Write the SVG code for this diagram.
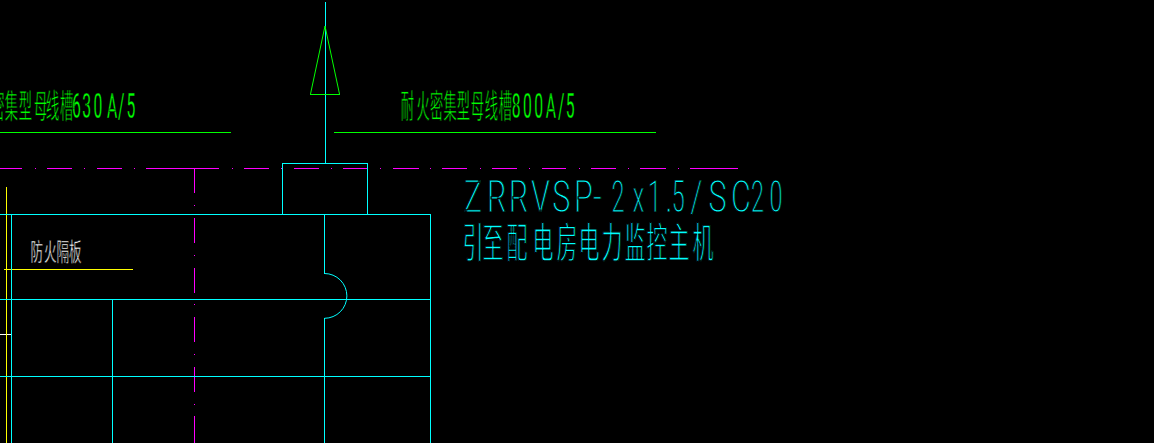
<svg xmlns="http://www.w3.org/2000/svg" width="1154" height="443" viewBox="0 0 1154 443">
<style>
line,path,polyline,rect.o{fill:none;stroke-width:1;shape-rendering:crispEdges}
.c{stroke:#0ff}.g{stroke:#0f0}.y{stroke:#ff0}.w{stroke:#fff}
.m{stroke:#f0f}
.cjk{font-family:"Noto Sans CJK SC","Noto Sans",sans-serif;font-weight:400;stroke:#000}
.lat{font-family:Roboto,"Liberation Sans",sans-serif;font-weight:400;stroke:#000}
.cab{font-weight:300;font-size:45px;stroke-width:.9}
.tg{fill:#0f0}.tc{fill:#0ff}.tw{fill:#fff}
</style>
<rect width="1154" height="443" fill="#000"/>
<g id="connectors">
<path class="m" d="M0 168.5H22M34.500 168.500h1M47 168.500H72M84 168.500h1M97 168.500H122M134 168.500h1M146 168.500H219M232 168.500h1M244 168.500H269M281 168.500h1M294 168.500H319M331 168.500h1M343 168.500H367M380 168.500h1M393 168.500H419M430 168.500h1M442 168.500H467M480 168.500h1M492 168.500H517M529 168.500h1M542 168.500H566M579 168.500h1M591 168.500H616M628 168.500h1M640 168.500H666M678 168.500h1M690 168.500H738"/>
<path class="m" d="M194.500 168.500V193M194.500 205v1M194.500 218V243M194.500 255v1M194.500 268V293M194.500 304v1M194.500 317V342M194.500 354v1M194.500 367V392M194.500 404v1M194.500 416V443"/>
<path class="g" d="M0 132.500H231M334 132.500H656"/>
<path class="y" d="M6.500 187V443M4 269.500H133"/>
<path class="w" d="M0 334.500H6M7 334.500H11"/>
<path class="c" d="M325.500 2V163.500M282.500 214V163.500H367.500V214M0 214.500H430.500V443M11.500 214V443M0 299.500H430.500M0 376.500H430.500M112.500 299.500V443M324.500 214.500V273.500"/>
<path class="c" style="shape-rendering:auto" d="M324.500 273.500A22.400 22.400 0 0 1 324.500 318.300"/>
<path class="c" d="M324.500 318V443"/>
</g>
<g id="arrow">
<path class="g" style="shape-rendering:auto" d="M325 26L310.500 94M325 26L339.500 94"/>
<path class="g" d="M310 94.500H340"/>
</g>
<g id="label-left">
<text class="cjk tg" font-size="33" stroke-width=".8" transform="scale(.4 1)" y="118" x="-22 12 47 85 115 150">密集型母线槽</text>
<text class="lat tg" font-size="35" stroke-width=".4" transform="scale(.45 1)" y="118" x="160 183 208 238 262 281">630A/5</text>
</g>
<g id="label-right">
<text class="cjk tg" font-size="33" stroke-width=".8" transform="scale(.4 1)" y="118" x="1002 1041 1075 1109 1142 1177 1212 1247">耐火密集型母线槽</text>
<text class="lat tg" font-size="35" stroke-width=".4" transform="scale(.45 1)" y="118" x="1137 1162 1187 1213 1240 1257">800A/5</text>
</g>
<g id="cable-label">
<text class="lat tc cab" transform="scale(.68 1)" y="212" x="682 716 748 781 812 844 872">ZRRVSP-</text>
<text class="lat tc cab" transform="scale(.52 1)" y="212" x="1176 1217 1246 1281 1292">2x1.5</text>
<text class="lat tc cab" transform="scale(.68 1)" y="212" x="1015 1042 1075">/SC</text>
<text class="lat tc cab" transform="scale(.52 1)" y="212" x="1444 1480">20</text>
<text class="cjk tc" font-size="42" stroke-width="1.3" transform="scale(.5 1)" y="258" x="925 965 1013 1065 1113 1157 1203 1249 1293 1337 1385">引至配电房电力监控主机</text>
</g>
<g id="fire-label">
<text class="cjk tw" font-size="25" stroke-width=".6" transform="scale(.5 1)" y="261" x="61 88 113 138">防火隔板</text>
</g>
</svg>
